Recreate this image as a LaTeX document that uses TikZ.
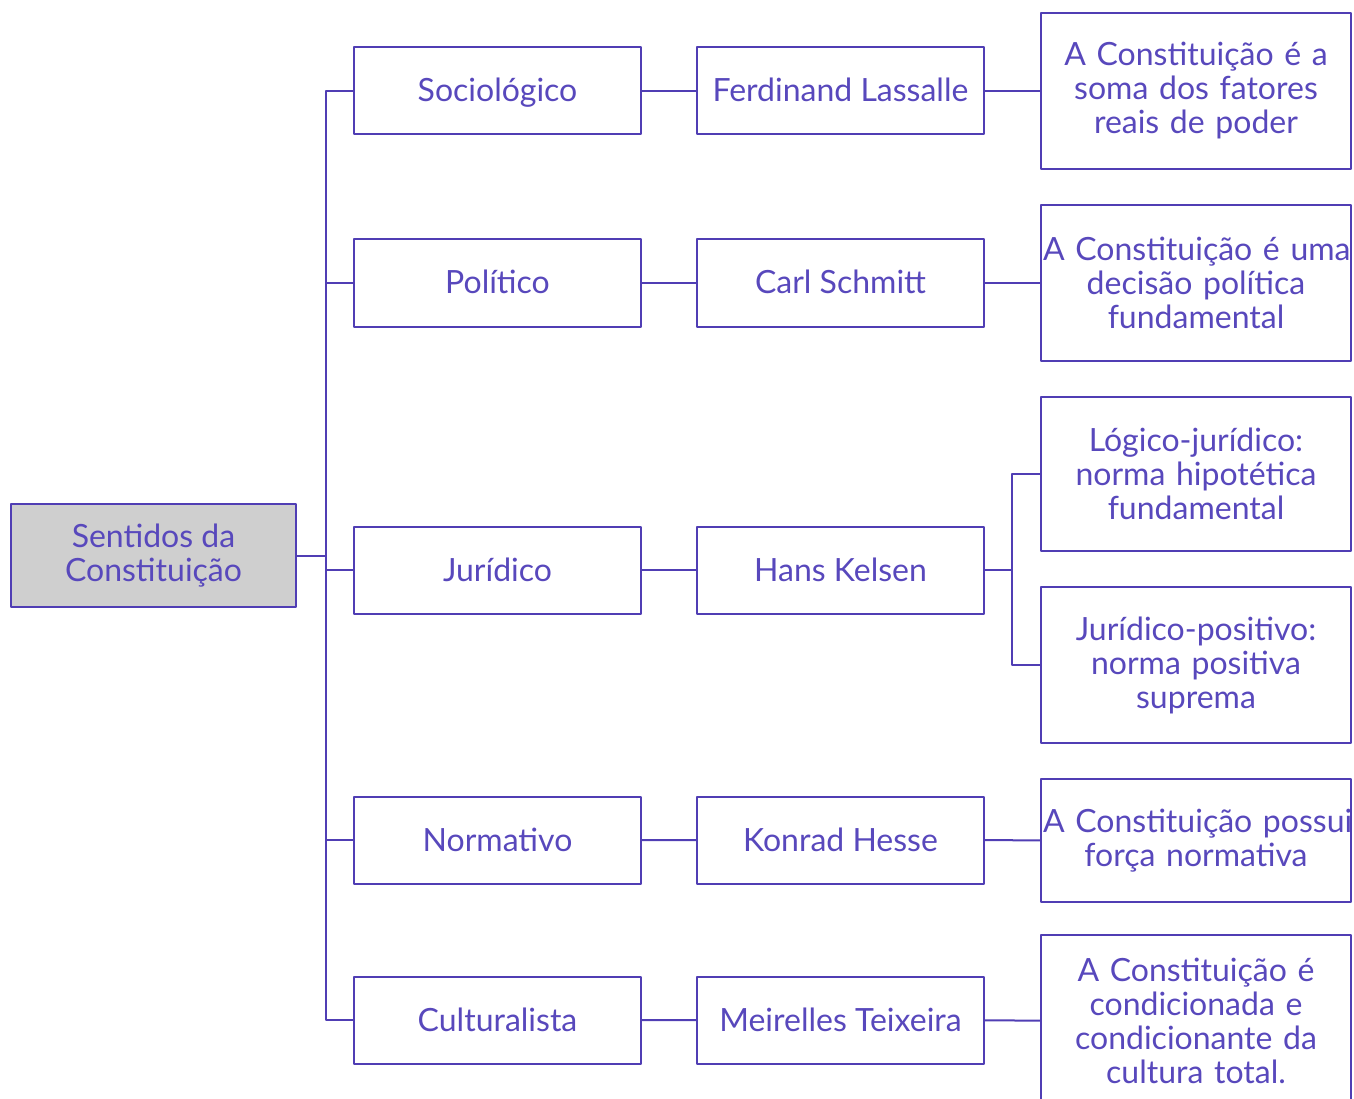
\documentclass[tikz,border=0pt]{standalone}
\usepackage{fontspec}
\setmainfont{Lato}
\definecolor{roxo}{RGB}{80,62,180}
\definecolor{textoroxo}{RGB}{88,72,188}
\definecolor{cinza}{RGB}{207,207,207}
\tikzset{
	caixa/.style={draw=roxo,line width=2pt,text=textoroxo,align=center,inner sep=2pt,
		font=\fontsize{32}{34}\selectfont},
	curta/.style={caixa,minimum width=287pt,minimum height=87pt,text height=23pt,text depth=1pt},
	tese/.style={caixa,text width=306pt,minimum height=#1},
	ligacao/.style={draw=roxo,line width=2pt}
}
\begin{document}
\begin{tikzpicture}[x=1pt,y=-1pt,line join=round]
	\useasboundingbox (0,0) rectangle (1354,1099);
	\clip (0,0) rectangle (1354,1099);
	% raiz
	\node[caixa,fill=cinza,minimum width=285pt,minimum height=103pt] (raiz) at (153.5,555.5) {Sentidos da\\Constituição};
	% primeira coluna: os sentidos
	\node[curta] (soc) at (497.5,91) {Sociológico};
	\node[curta] (pol) at (497.5,283) {Político};
	\node[curta] (jur) at (497.5,570) {Jurídico};
	\node[curta] (nor) at (497.5,840) {Normativo};
	\node[curta] (cul) at (497.5,1020) {Culturalista};
	% segunda coluna: os autores
	\node[curta] (lassalle) at (840.5,91) {Ferdinand Lassalle};
	\node[curta] (schmitt) at (840.5,283) {Carl Schmitt};
	\node[curta] (kelsen) at (840.5,570) {Hans Kelsen};
	\node[curta] (hesse) at (840.5,840) {Konrad Hesse};
	\node[curta] (teixeira) at (840.5,1020) {Meirelles Teixeira};
	% terceira coluna: as teses
	\node[tese=156pt] (t1) at (1196,91) {A Constituição é a\\soma dos fatores\\reais de poder};
	\node[tese=156pt] (t2) at (1196,283) {\mbox{A Constituição é uma}\\decisão política\\fundamental};
	\node[tese=154pt] (logico) at (1196,474) {Lógico-jurídico:\\norma hipotética\\fundamental};
	\node[tese=156pt] (positivo) at (1196,665) {Jurídico-positivo:\\norma positiva\\suprema};
	\node[tese=123pt] (t4) at (1196,840.5) {\mbox{A Constituição possui}\\força normativa};
	\node[tese=172pt] (t5) at (1196,1021) {A Constituição é\\condicionada e\\condicionante da\\cultura total.};
	% ligações
	\coordinate (bus) at (326,555.5);
	\coordinate (kbus) at (1012,570);
	\draw[ligacao] (raiz.east) -- (bus);
	\foreach \s in {soc,pol,jur,nor,cul}
		\draw[ligacao] (bus) |- (\s.west);
	\draw[ligacao] (soc) -- (lassalle) (lassalle) -- (t1);
	\draw[ligacao] (pol) -- (schmitt) (schmitt) -- (t2);
	\draw[ligacao] (jur) -- (kelsen) (kelsen) -- (kbus);
	\draw[ligacao] (kbus) |- (logico.west);
	\draw[ligacao] (kbus) |- (positivo.west);
	\draw[ligacao] (nor) -- (hesse) (hesse) -- (t4);
	\draw[ligacao] (cul) -- (teixeira) (teixeira) -- (t5);
\end{tikzpicture}
\end{document}
